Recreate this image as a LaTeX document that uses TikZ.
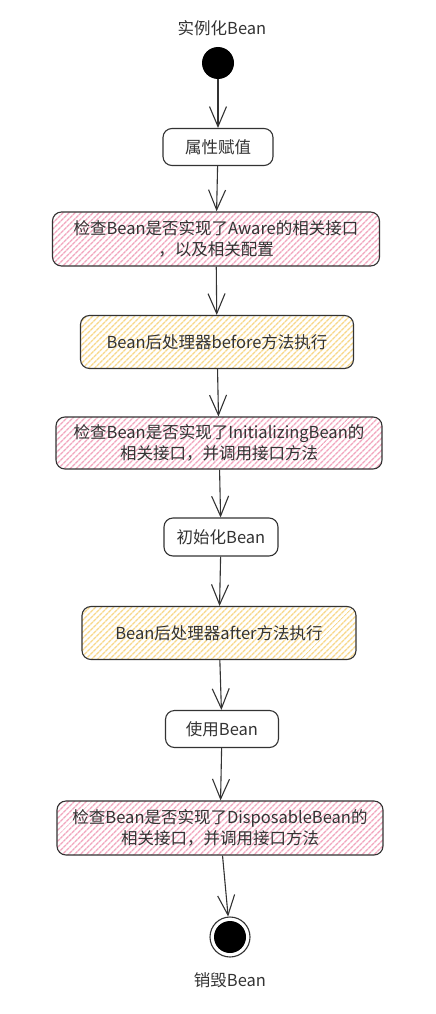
\documentclass[tikz,border=0pt]{standalone}
\usepackage{fontspec}
\setmainfont{Noto Sans CJK SC}
\usetikzlibrary{arrows.meta,patterns.meta}
\definecolor{edge}{HTML}{333333}
\definecolor{pinkline}{HTML}{F2A6BE}
\definecolor{yellowline}{HTML}{F8D88A}

\begin{document}
\begin{tikzpicture}[x=1pt,y=-1pt,
        act/.style={draw=edge, line width=1.1pt, rounded corners=9pt, align=center,
                font=\fontsize{16.5}{21}\selectfont, text=edge, inner sep=0pt},
        plainact/.style={act, fill=white},
        pinkact/.style={act, preaction={fill=white},
                pattern={Lines[angle=45,distance=4pt,line width=1.5pt]}, pattern color=pinkline},
        yellowact/.style={act, preaction={fill=white},
                pattern={Lines[angle=45,distance=4pt,line width=1.5pt]}, pattern color=yellowline},
        flow/.style={draw=edge, line width=1.1pt,
                -{Straight Barb[length=20pt,width=17pt,line width=1.1pt]}},
        caption/.style={font=\fontsize{16.5}{21}\selectfont, text=edge}]
        \useasboundingbox (0,0) rectangle (436,1014);
        % start and end points
        \node[caption] (title) at (222,28) {实例化Bean};
        \node[circle, fill=black, minimum size=32pt, inner sep=0pt] (start) at (218,63) {};
        \node[circle, draw=edge, line width=1.1pt, minimum size=40pt, inner sep=0pt,
                path picture={\fill[black] (path picture bounding box.center) circle (16pt);}] (end) at (230,937) {};
        \node[caption] (endlabel) at (230,980) {销毁Bean};
        % activities
        \node[plainact, minimum width=110pt, minimum height=37pt] (p1) at (218,147) {属性赋值};
        \node[pinkact, minimum width=327pt, minimum height=54pt] (p2) at (216,239)
                {检查Bean是否实现了Aware的相关接口\\，以及相关配置};
        \node[yellowact, minimum width=273pt, minimum height=53pt] (p3) at (217,342)
                {Bean后处理器before方法执行};
        \node[pinkact, minimum width=326pt, minimum height=52pt] (p4) at (219,443)
                {检查Bean是否实现了InitializingBean的\\相关接口，并调用接口方法};
        \node[plainact, minimum width=114pt, minimum height=38pt] (p5) at (221,537) {初始化Bean};
        \node[yellowact, minimum width=274pt, minimum height=53pt] (p6) at (219,633)
                {Bean后处理器after方法执行};
        \node[plainact, minimum width=113pt, minimum height=37pt] (p7) at (222,729) {使用Bean};
        \node[pinkact, minimum width=326pt, minimum height=54pt] (p8) at (220,828)
                {检查Bean是否实现了DisposableBean的\\相关接口，并调用接口方法};
        \foreach \a/\b in {start/p1, p1/p2, p2/p3, p3/p4, p4/p5, p5/p6, p6/p7, p7/p8, p8/end} {
                \draw[flow] (\a) -- (\b);
            }
\end{tikzpicture}
\end{document}
